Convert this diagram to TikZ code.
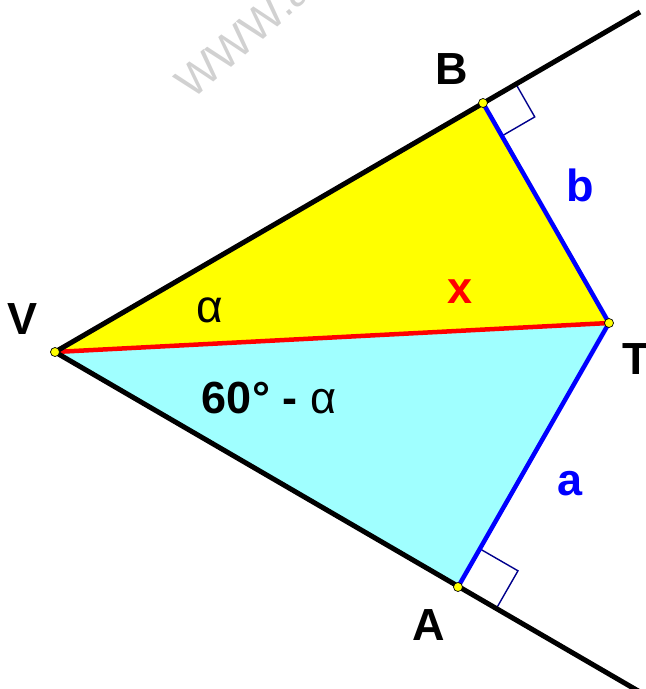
\documentclass[tikz,border=0pt]{standalone}
\usepackage{fontspec}
\setmainfont{Liberation Sans}
\usetikzlibrary{calc}
\begin{document}
\begin{tikzpicture}[x=1pt,y=-1pt,
  lbl/.style={font=\fontsize{45}{45}\selectfont\bfseries, inner sep=0pt},
  glbl/.style={font=\fontsize{46}{46}\selectfont, inner sep=0pt},
  ray/.style={line width=5pt, black},
  side/.style={line width=4.5pt, pblue},
  rmark/.style={line width=1.4pt, draw={rgb,255:red,0;green,0;blue,140}},
  pt/.style={circle, fill=pyellow, draw=black, line width=0.7pt, inner sep=0pt, minimum size=9pt}]
\definecolor{lcyan}{RGB}{160,255,255}
\definecolor{pyellow}{RGB}{255,255,0}
\definecolor{pblue}{RGB}{0,0,255}
\definecolor{pred}{RGB}{255,0,0}
\useasboundingbox (0,0) rectangle (646,689);
\clip (0,0) rectangle (646,689);
% watermark
\node[rotate=41, anchor=base west, text=black!18, font=\fontsize{45}{45}\selectfont, inner sep=0pt] (wm) at (192,101) {WWW.a};
\coordinate (V) at (55,352);
\coordinate (B) at (483,103);
\coordinate (T) at (609,323);
\coordinate (A) at (458,587);
\coordinate (Bend) at (640,12);
\coordinate (Aend) at (640,692);
\fill[pyellow] (V) -- (B) -- (T) -- cycle;
\fill[lcyan] (V) -- (T) -- (A) -- cycle;
% right angle marks
\draw[rmark] (B) -- ($(B)!38pt!(Bend)$) -- ($($(B)!38pt!(Bend)$)+($(B)!38pt!(T)$)-(B)$) -- ($(B)!38pt!(T)$);
\draw[rmark] (A) -- ($(A)!44pt!(Aend)$) -- ($($(A)!44pt!(Aend)$)+($(A)!44pt!(T)$)-(A)$) -- ($(A)!44pt!(T)$);
\draw[side] (B) -- (T) -- (A);
\draw[line width=4.5pt, pred] (V) -- (T);
\draw[ray] (Bend) -- (V) -- (Aend);
\node[pt] (pV) at (V) {};
\node[pt] (pB) at (B) {};
\node[pt] (pT) at (T) {};
\node[pt] (pA) at (A) {};
\node[lbl] (lB) at (452,69) {B};
\node[lbl] (lV) at (23,319) {V};
\node[lbl] (lT) at (636,359) {T};
\node[lbl] (lA) at (429,625) {A};
\node[lbl, text=pblue] (lb) at (580,185) {b};
\node[lbl, text=pblue] (la) at (570,484) {a};
\node[lbl, text=pred] (lx) at (460,292) {x};
\node[glbl] (lal) at (210,310) {α};
\node[lbl] (l60) at (269,398) {60° - \textmd{α}};
\end{tikzpicture}
\end{document}
